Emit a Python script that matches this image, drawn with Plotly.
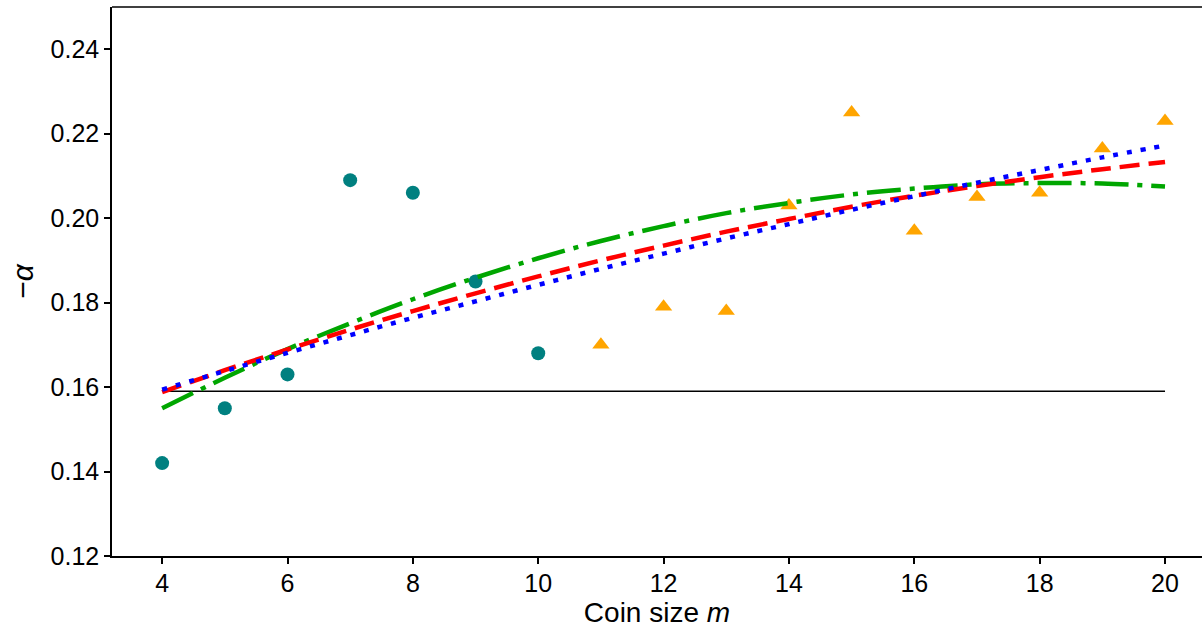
import plotly.graph_objects as go

# Measured exponents for small coins (circles) and large coins (triangles)
m_small = [4, 5, 6, 7, 8, 9, 10]
alpha_small = [0.142, 0.155, 0.163, 0.209, 0.206, 0.185, 0.168]

m_large = [11, 12, 13, 14, 15, 16, 17, 18, 19, 20]
alpha_large = [0.170, 0.179, 0.178, 0.203, 0.225, 0.197, 0.205, 0.206, 0.2165, 0.223]

# Fitted curves evaluated at each coin size
m_fit = list(range(4, 21))
fit_blue = [0.1594, 0.1638, 0.1681, 0.1723, 0.1764, 0.1803, 0.1842, 0.1880, 0.1916,
            0.1952, 0.1986, 0.2020, 0.2052, 0.2084, 0.2114, 0.2144, 0.2172]
fit_red = [0.1588, 0.1640, 0.1689, 0.1736, 0.1780, 0.1822, 0.1862, 0.1900, 0.1935,
           0.1968, 0.1998, 0.2027, 0.2053, 0.2076, 0.2097, 0.2116, 0.2133]
fit_green = [0.1550, 0.1622, 0.1690, 0.1751, 0.1808, 0.1859, 0.1905, 0.1946, 0.1981,
             0.2012, 0.2036, 0.2056, 0.2070, 0.2080, 0.2083, 0.2082, 0.2075]

# Reference level
m_ref = [4, 20]
alpha_ref = [0.159, 0.159]

fig = go.Figure()

fig.add_trace(go.Scatter(x=m_ref, y=alpha_ref, mode="lines",
                         line=dict(color="black", width=1.5), showlegend=False))
fig.add_trace(go.Scatter(x=m_small, y=alpha_small, mode="markers",
                         marker=dict(color="#008080", size=14, symbol="circle"),
                         showlegend=False))
fig.add_trace(go.Scatter(x=m_large, y=alpha_large, mode="markers",
                         marker=dict(color="#FFA500", size=15, symbol="triangle-up"),
                         showlegend=False))
fig.add_trace(go.Scatter(x=m_fit, y=fit_green, mode="lines",
                         line=dict(color="#00A600", width=4.5, shape="spline",
                                   dash="34px,9px,5px,9px"),
                         showlegend=False))
fig.add_trace(go.Scatter(x=m_fit, y=fit_red, mode="lines",
                         line=dict(color="#FF0000", width=4.5, shape="spline",
                                   dash="20px,9px"),
                         showlegend=False))
fig.add_trace(go.Scatter(x=m_fit, y=fit_blue, mode="lines",
                         line=dict(color="#0000FF", width=4.5, shape="spline",
                                   dash="5px,9px"),
                         showlegend=False))

# Top frame line
fig.add_shape(type="line", xref="paper", yref="paper", x0=0, x1=1, y0=1, y1=1,
              line=dict(color="black", width=1.5))

fig.update_layout(
    width=1202, height=629,
    margin=dict(l=112, r=0, t=7, b=73),
    plot_bgcolor="white", paper_bgcolor="white",
    font=dict(family="Liberation Sans, Arial, sans-serif", color="black", size=25),
    xaxis=dict(range=[3.2, 20.59], tickvals=[4, 6, 8, 10, 12, 14, 16, 18, 20],
               showline=True, linecolor="black", linewidth=1.5,
               ticks="outside", ticklen=6, tickwidth=1.5, tickcolor="black",
               ticklabelstandoff=-2,
               showgrid=False, zeroline=False,
               title=dict(text="Coin size <i>m</i>", font=dict(size=28), standoff=3)),
    yaxis=dict(range=[0.12, 0.25], tickvals=[0.12, 0.14, 0.16, 0.18, 0.20, 0.22, 0.24],
               tickformat=".2f",
               showline=True, linecolor="black", linewidth=1.5,
               ticks="outside", ticklen=6, tickwidth=1.5, tickcolor="black",
               showgrid=False, zeroline=False,
               title=dict(text="−<i>α</i>", font=dict(size=30), standoff=8)),
)

fig.write_html("out.html")
